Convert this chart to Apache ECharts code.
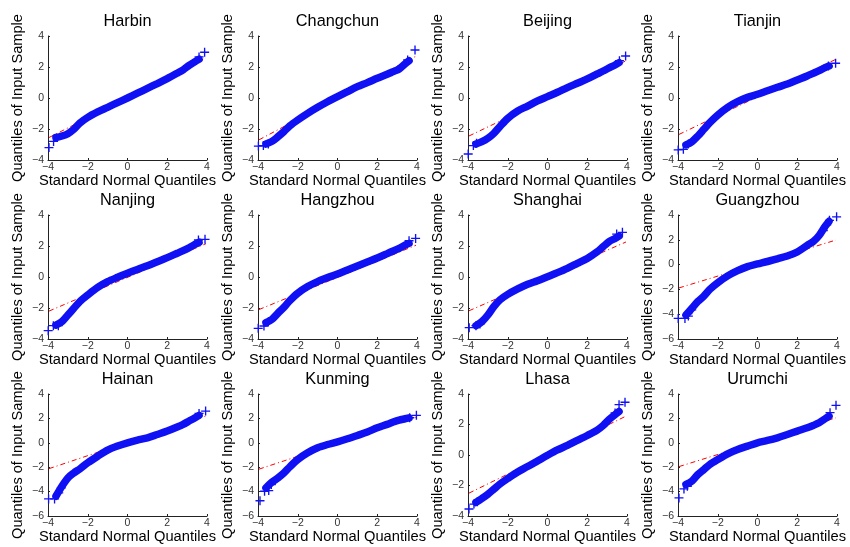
<!DOCTYPE html>
<html>
<head>
<meta charset="utf-8">
<title>Normal Q-Q plots by city</title>
<script src="https://cdn.jsdelivr.net/npm/echarts@6/dist/echarts.min.js"></script>
<style>
  html, body { margin: 0; padding: 0; background: #fff; }
  #chart { width: 850px; height: 547px; }
</style>
</head>
<body>
<div id="chart"></div>
<script>
// Panel titles, in row-major order (3 rows x 4 columns)
const cities = ['Harbin', 'Changchun', 'Beijing', 'Tianjin',
                'Nanjing', 'Hangzhou', 'Shanghai', 'Guangzhou',
                'Hainan', 'Kunming', 'Lhasa', 'Urumchi'];

// Lower limit of each panel's y axis
const yMins = [-4, -4, -4, -4, -4, -4, -4, -6, -6, -6, -4, -6];

// Standard normal quantiles where the dense body of each sample is traced
const normalQuantiles = [-3.6, -3.3, -3, -2.7, -2.4, -2, -1.5, -1, -0.5, 0,
                         0.5, 1, 1.5, 2, 2.5, 2.8, 3.1, 3.4, 3.6];

// Sample quantiles at those normal quantiles
const bandHarbin    = [-2.55, -2.45, -2.3, -2.02, -1.62, -1.25, -0.9, -0.6, -0.3, 0, 0.31, 0.62, 0.93, 1.25, 1.6, 1.82, 2.1, 2.35, 2.5];
const bandChangchun = [-2.97, -2.8, -2.5, -2.17, -1.8, -1.42, -0.99, -0.6, -0.24, 0.09, 0.41, 0.73, 0.99, 1.27, 1.53, 1.7, 1.87, 2.2, 2.4];
const bandBeijing   = [-2.97, -2.82, -2.6, -2.28, -1.85, -1.31, -0.84, -0.52, -0.19, 0.09, 0.37, 0.67, 0.95, 1.23, 1.55, 1.74, 1.94, 2.13, 2.28];
const bandTianjin   = [-3.03, -2.82, -2.45, -2.02, -1.59, -1.1, -0.6, -0.24, 0.04, 0.24, 0.47, 0.69, 0.9, 1.16, 1.42, 1.59, 1.76, 1.96, 2.06];
const bandNanjing   = [-3.1, -2.88, -2.45, -2.02, -1.59, -1.16, -0.67, -0.3, -0.02, 0.24, 0.49, 0.73, 0.99, 1.25, 1.53, 1.7, 1.89, 2.11, 2.24];
const bandHangzhou  = [-2.95, -2.73, -2.34, -1.96, -1.53, -1.05, -0.62, -0.3, -0.04, 0.19, 0.45, 0.71, 0.97, 1.23, 1.51, 1.68, 1.85, 2.06, 2.17];
const bandShanghai  = [-3.14, -2.88, -2.45, -1.91, -1.48, -1.12, -0.77, -0.47, -0.24, 0.02, 0.28, 0.56, 0.88, 1.2, 1.63, 1.96, 2.28, 2.49, 2.64];
const bandGuangzhou = [-4.07, -3.52, -2.97, -2.55, -2.0, -1.46, -0.91, -0.49, -0.16, 0.05, 0.25, 0.47, 0.69, 1.02, 1.55, 1.85, 2.35, 3.08, 3.49];
const bandHainan    = [-4.38, -3.56, -2.88, -2.47, -2.14, -1.64, -1.1, -0.6, -0.27, 0, 0.22, 0.41, 0.68, 0.96, 1.29, 1.51, 1.78, 2.05, 2.25];
const bandKunming   = [-3.7, -3.23, -2.88, -2.47, -1.97, -1.37, -0.82, -0.41, -0.14, 0.08, 0.33, 0.6, 0.88, 1.23, 1.51, 1.7, 1.86, 1.97, 2.05];
const bandLhasa     = [-3.11, -2.85, -2.57, -2.24, -1.91, -1.54, -1.11, -0.76, -0.39, -0.02, 0.33, 0.63, 0.96, 1.28, 1.63, 1.93, 2.33, 2.65, 2.85];
const bandUrumchi   = [-3.42, -3.15, -2.6, -2.19, -1.78, -1.37, -0.9, -0.55, -0.27, 0, 0.19, 0.41, 0.68, 0.96, 1.23, 1.42, 1.64, 1.97, 2.19];

// Isolated extreme points in the tails: [normal quantile, sample quantile]
const tailHarbin    = [[-3.95, -3.2], [-3.72, -2.8], [3.6, 2.65], [3.88, 2.95]];
const tailChangchun = [[-3.98, -3.1], [-3.73, -3.07], [-3.48, -2.97], [3.53, 2.45], [3.9, 3.1]];
const tailBeijing   = [[-3.99, -3.61], [-3.73, -3.07], [-3.57, -2.92], [3.62, 2.41], [3.93, 2.71]];
const tailTianjin   = [[-3.99, -3.35], [-3.73, -3.31], [-3.48, -2.97], [3.57, 2.06], [3.93, 2.24]];
const tailNanjing   = [[-3.99, -3.46], [-3.73, -3.14], [-3.48, -3.14], [3.57, 2.39], [3.9, 2.43]];
const tailHangzhou  = [[-3.99, -3.31], [-3.7, -3.16], [-3.48, -2.88], [3.6, 2.34], [3.93, 2.49]];
const tailShanghai  = [[-3.94, -3.27], [-3.6, -3.14], [-3.4, -3.03], [3.48, 2.77], [3.77, 2.88]];
const tailGuangzhou = [[-3.99, -4.34], [-3.65, -4.34], [-3.48, -4.15], [-3.31, -3.65], [3.31, 2.75], [3.48, 3.21], [3.62, 3.57], [3.98, 3.85]];
const tailHainan    = [[-3.97, -4.6], [-3.67, -4.6], [-3.46, -4.1], [-3.33, -3.7], [3.6, 2.41], [3.93, 2.6]];
const tailKunming   = [[-3.9, -4.75], [-3.67, -3.97], [-3.46, -3.92], [-3.33, -3.42], [3.63, 2.05], [3.97, 2.25]];
const tailLhasa     = [[-3.95, -3.54], [-3.7, -3.22], [-3.53, -3.07], [3.4, 2.76], [3.6, 3.3], [3.9, 3.46]];
const tailUrumchi   = [[-3.95, -4.52], [-3.7, -3.78], [-3.53, -3.56], [3.65, 2.47], [3.95, 3.07]];

// Reference line through the quartiles, given at both ends of the x range
const refX = [-3.95, 3.95];
const refHarbin    = [-2.55, 2.6];
const refChangchun = [-2.7, 2.7];
const refBeijing   = [-2.45, 2.4];
const refTianjin   = [-2.35, 2.5];
const refNanjing   = [-2.2, 2.15];
const refHangzhou  = [-2.1, 2.05];
const refShanghai  = [-2.18, 2.26];
const refGuangzhou = [-1.88, 1.98];
const refHainan    = [-2.12, 2.2];
const refKunming   = [-2.16, 2.1];
const refLhasa     = [-2.5, 2.55];
const refUrumchi   = [-1.95, 2.05];

const bands = [bandHarbin, bandChangchun, bandBeijing, bandTianjin, bandNanjing, bandHangzhou,
               bandShanghai, bandGuangzhou, bandHainan, bandKunming, bandLhasa, bandUrumchi];
const tails = [tailHarbin, tailChangchun, tailBeijing, tailTianjin, tailNanjing, tailHangzhou,
               tailShanghai, tailGuangzhou, tailHainan, tailKunming, tailLhasa, tailUrumchi];
const refs = [refHarbin, refChangchun, refBeijing, refTianjin, refNanjing, refHangzhou,
              refShanghai, refGuangzhou, refHainan, refKunming, refLhasa, refUrumchi];

// Panel layout (pixels)
const colLeft = [48, 258, 468, 678];
const rowTop = [36, 215, 394];
const rowHeight = [124, 124, 122];
const panelWidth = 159;

const FONT = '"Liberation Sans", Arial, Helvetica, sans-serif';
const BLUE = '#1010f4';
const PLUS = 'path://M8.5,0H11.5V8.5H20V11.5H11.5V20H8.5V11.5H0V8.5H8.5Z';
const minus = v => String(v).replace('-', '\u2212');

const grids = [], xAxes = [], yAxes = [], series = [], graphics = [];

cities.forEach((name, i) => {
  const r = Math.floor(i / 4), c = i % 4;
  const left = colLeft[c], top = rowTop[r], h = rowHeight[r];
  grids.push({ left: left, top: top, width: panelWidth, height: h, containLabel: false });

  xAxes.push({
    gridIndex: i, type: 'value', min: -4, max: 4, interval: 2,
    name: 'Standard Normal Quantiles', nameLocation: 'middle', nameGap: 12,
    nameTextStyle: { fontFamily: FONT, fontSize: 14.7, color: '#000' },
    axisLine: { show: true, onZero: false, lineStyle: { color: '#222', width: 1 } },
    axisTick: { show: true, inside: true, length: 2, lineStyle: { color: '#222' } },
    axisLabel: { fontFamily: FONT, fontSize: 10.5, color: '#333', margin: 2, formatter: minus },
    splitLine: { show: false }
  });

  yAxes.push({
    gridIndex: i, type: 'value', min: yMins[i], max: 4, interval: 2,
    name: 'Quantiles of Input Sample', nameLocation: 'middle', nameGap: 23,
    nameTextStyle: { fontFamily: FONT, fontSize: 14.6, color: '#000' },
    axisLine: { show: true, onZero: false, lineStyle: { color: '#222', width: 1 } },
    axisTick: { show: true, inside: true, length: 2, lineStyle: { color: '#222' } },
    axisLabel: { fontFamily: FONT, fontSize: 10.5, color: '#333', margin: 4, formatter: minus },
    splitLine: { show: false }
  });

  // dash-dot reference line
  series.push({
    type: 'line', xAxisIndex: i, yAxisIndex: i, z: 1,
    data: [[refX[0], refs[i][0]], [refX[1], refs[i][1]]],
    showSymbol: false, silent: true,
    lineStyle: { color: '#ff0000', width: 1, type: [5, 3, 1, 3] }
  });

  // dense body of overlapping sample points
  series.push({
    type: 'line', xAxisIndex: i, yAxisIndex: i, z: 2,
    data: normalQuantiles.map((q, k) => [q, bands[i][k]]),
    smooth: 0.3, showSymbol: false, silent: true,
    lineStyle: { color: BLUE, width: 7.5, cap: 'round' }
  });

  // individual tail points
  series.push({
    type: 'scatter', xAxisIndex: i, yAxisIndex: i, z: 3,
    data: tails[i], symbol: PLUS, symbolSize: 9, silent: true,
    itemStyle: { color: BLUE, opacity: 1 }
  });

  graphics.push({
    type: 'text', x: left + panelWidth / 2, y: top - 14.5,
    style: { text: name, font: '16.3px ' + FONT, fill: '#000', align: 'center', verticalAlign: 'middle' }
  });
});

const chart = echarts.init(document.getElementById('chart'), null, { renderer: 'canvas' });
chart.setOption({
  animation: false,
  backgroundColor: '#fff',
  grid: grids,
  xAxis: xAxes,
  yAxis: yAxes,
  series: series,
  graphic: graphics
});
</script>
</body>
</html>
